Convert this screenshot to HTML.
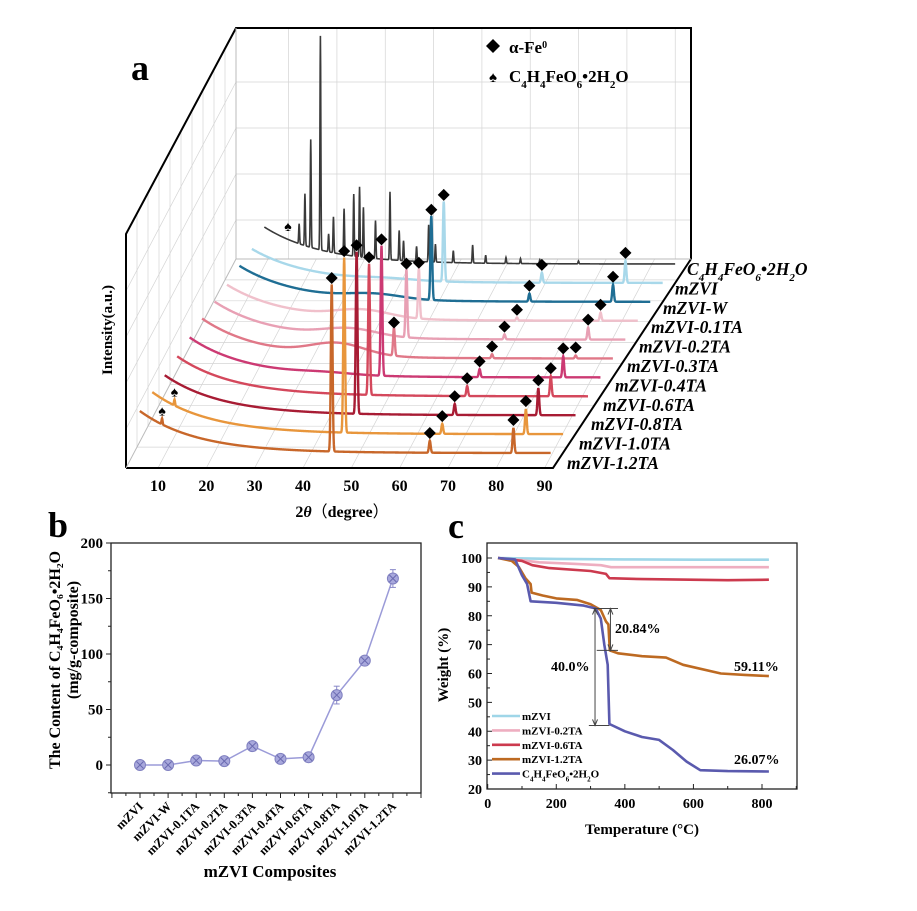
<!DOCTYPE html>
<html><head><meta charset="utf-8"><style>
html,body{margin:0;padding:0;background:#fff}
svg{display:block;font-family:"Liberation Serif",serif;font-weight:bold}
</style></head><body>
<svg id="fig" width="917" height="911" viewBox="0 0 917 911" xmlns="http://www.w3.org/2000/svg">
<g id="pa"></g>
<g id="pb"></g>
<g id="pc"></g>
</svg>
<script>
// ===== Panel a data =====
const xrdNames = ["mZVI-1.2TA","mZVI-1.0TA","mZVI-0.8TA","mZVI-0.6TA","mZVI-0.4TA","mZVI-0.3TA","mZVI-0.2TA","mZVI-0.1TA","mZVI-W","mZVI"];
const xrdColors = ["#c8672a","#e8963c","#a81c34","#d4485c","#cc3a73","#e07888","#e8a0b4","#f0c0cb","#1f6e94","#a8d8ea"];
const fePeaks = [44.7, 65.0, 82.3];
const feH1 = [167,175,162,131,130,28,68,50,84,80];
const feH2 = [12,10,11,10,8,4,5,3,8,10];
const feH3 = [25,25,27,20,21,3,12,8,17,22];
const bgStart = [42,42,40,40,40,40,38,36,36,34];
const humpH = [0,0,0,0,2,12,8,8,5,2];
const tarPeakPos = [12.2,13.4,14.6,16.6,18.3,19.3,21.5,23.5,24.7,25.5,28.0,31.0,32.9,33.8,36.5,39.0,40.4,44.1,48.1,50.8,55,58,62,70];
const tarPeakH = [20,52,108,214,18,36,46,62,70,50,38,68,30,20,15,37,18,12,18,8,6,5,4,3];
const tarBg = 37;
const thetaTicks = [10,20,30,40,50,60,70,80,90];

// ===== Panel b data =====
const bCats = ["mZVI","mZVI-W","mZVI-0.1TA","mZVI-0.2TA","mZVI-0.3TA","mZVI-0.4TA","mZVI-0.6TA","mZVI-0.8TA","mZVI-1.0TA","mZVI-1.2TA"];
const bVals = [0,0,4,3.5,17,5.5,7,63,94,168];
const bErr = [1,1,1.5,1.5,2,1.5,1.5,8,3,8];
const bTicks = [0,50,100,150,200];

// ===== Panel c data =====
const cNames = ["mZVI","mZVI-0.2TA","mZVI-0.6TA","mZVI-1.2TA","C4H4FeO6•2H2O"];
const cColors = ["#9fd6e8","#eeaec0","#cc3a4e","#bd6a22","#5a5aae"];
const tMZVI = [30,200,400,600,820];
const wMZVI = [100,99.7,99.5,99.4,99.4];
const t02 = [30,100,150,250,330,360,500,820];
const w02 = [100,99.2,98.5,98,97.5,96.8,96.8,96.8];
const t06 = [30,100,130,180,300,345,355,450,700,820];
const w06 = [100,99,97.5,96.5,95.5,94.5,93,92.7,92.3,92.5];
const t12 = [30,70,90,110,125,128,160,200,260,300,330,345,352,356,380,450,520,570,680,750,820];
const w12 = [100,99,97,93,91,88,87,86,85.5,84,82,78,77,68,67,66,65.5,63,60,59.5,59.1];
const tTar = [30,80,100,115,125,200,280,315,330,340,350,355,400,450,500,540,580,620,700,820];
const wTar = [100,99.5,94,91,85,84.5,83.5,82.5,79,70,63,42.5,40,38,37,33.5,29.5,26.5,26.2,26.07];
const cXTicks = [0,200,400,600,800];
const cYTicks = [20,30,40,50,60,70,80,90,100];

const NS="http://www.w3.org/2000/svg";
function mk(tag,attrs,parent,text){const e=document.createElementNS(NS,tag);for(const k in attrs)e.setAttribute(k,attrs[k]);if(text!==undefined)e.textContent=text;parent.appendChild(e);return e;}
const FORM='C<tspan baseline-shift="sub" font-size="SS">4</tspan>H<tspan baseline-shift="sub" font-size="SS">4</tspan>FeO<tspan baseline-shift="sub" font-size="SS">6</tspan>•2H<tspan baseline-shift="sub" font-size="SS">2</tspan>O';

// ===== Panel a =====
(function(){
const g=document.getElementById('pa');
const SX=4.833, DX=12.45, DY=-18.9;
const FL=126, FR=553, FB=468, FT=234, BL=236, BR=691, BT=28, BB=259;
const X=(t,k)=>164+(t-10)*SX+DX*k;
const B=k=>453+DY*k;
const grid=mk('g',{stroke:'#d4d4d4','stroke-width':0.7,fill:'none'},g);


const hy=[82,128,174,220];
hy.forEach(y=>mk('line',{x1:BL,y1:y,x2:BR,y2:y},grid));
thetaTicks.forEach(t=>{const x=288.6+(t-10)*SX;mk('line',{x1:x,y1:BT,x2:x,y2:BB},grid);});
const ddx=BL-FL, ddy=FB-BB;
for(let i=1;i<10;i++){const f=i/10;mk('line',{x1:FL+ddx*f,y1:FB-ddy*f,x2:FL+ddx*f,y2:FT-(FT-BT)*f},grid);}
hy.forEach(y=>{const dy=BB-y;mk('line',{x1:FL,y1:FB-dy,x2:BL,y2:BB-dy},grid);});
thetaTicks.forEach(t=>{const x=158+(t-10)*SX;mk('line',{x1:x,y1:FB,x2:x+ddx,y2:BB},grid);});
for(let i=1;i<10;i++){const f=i/10;mk('line',{x1:FL+ddx*f,y1:FB-ddy*f,x2:FR+(BR-FR)*f,y2:FB-ddy*f},grid);}
const fr=mk('g',{stroke:'#000','stroke-width':2,fill:'none'},g);


mk('polyline',{points:`${FL},${FB} ${FL},${FT} ${BL},${BT} ${BR},${BT} ${BR},${BB}`},fr);
mk('polyline',{points:`${FL},${FB} ${FR},${FB} ${BR},${BB}`},fr);
mk('line',{x1:BL,y1:BT,x2:BL,y2:BB,stroke:'#bbb','stroke-width':1},g);
mk('line',{x1:BL,y1:BB,x2:BR,y2:BB,stroke:'#bbb','stroke-width':1},g);
mk('line',{x1:FL,y1:FB,x2:BL,y2:BB,stroke:'#bbb','stroke-width':1},g);
function path(k,fn){let d='';for(let t=5;t<=90.001;t+=0.05){const y=B(k)-fn(t);d+=(d?'L':'M')+X(t,k).toFixed(2)+' '+y.toFixed(2);}return d;}
const tar=mk('path',{d:path(10,t=>{let v=tarBg*Math.exp(-(t-5)/12);tarPeakPos.forEach((p,i)=>{v+=tarPeakH[i]*Math.exp(-Math.pow((t-p)/0.13,2));});return v;}),stroke:'#3a3a3a','stroke-width':1.6,fill:'none'},g);


for(let k=9;k>=0;k--){
  const fn=t=>{let v=bgStart[k]*Math.exp(-(t-5)/12)+humpH[k]*Math.exp(-Math.pow((t-33)/8,2));
    const hs=[feH1[k],feH2[k],feH3[k]];fePeaks.forEach((p,i)=>{v+=hs[i]*Math.exp(-Math.pow((t-p)/0.25,2));});
    if(k<=1)v+=6*Math.exp(-Math.pow((t-9.6)/0.15,2));return v;};
  const p=mk('path',{d:path(k,fn),stroke:xrdColors[k],'stroke-width':2.4,fill:'none'},g);
  
  
  const hs=[feH1[k],feH2[k],feH3[k]];
  fePeaks.forEach((pp,i)=>{const x=X(pp,k),y=B(k)-hs[i]-8;
    const m=mk('path',{d:`M${x} ${y-6}L${x+6} ${y}L${x} ${y+6}L${x-6} ${y}Z`,fill:'#000'},g);
    
    });
  if(k<=1){const s=mk('text',{x:X(9.6,k),y:B(k)-bgStart[k]*Math.exp(-4.6/12)-9,'font-size':14,'text-anchor':'middle'},g,'♠');
    
    }
}
const s2=mk('text',{x:X(10.5,10)-3,y:231,'font-size':14,'text-anchor':'middle'},g,'♠');


xrdNames.forEach((l,k)=>{const t=mk('text',{x:567+12*k,y:469-19.4*k,'font-size':17.5,'font-style':'italic'},g,l);
  
  });
const tl=mk('text',{x:567+120,y:469-194,'font-size':17.5,'font-style':'italic'},g);


tl.innerHTML=FORM.replace(/SS/g,'11');
thetaTicks.forEach(t=>{const e=mk('text',{x:158+(t-10)*SX,y:491,'font-size':16,'text-anchor':'middle'},g,t);
  
  });
const xt=mk('text',{x:342,y:517,'font-size':16,'text-anchor':'middle'},g);


xt.innerHTML='2<tspan font-style="italic">θ</tspan><tspan font-family="Noto Sans CJK SC" font-weight="normal">（</tspan>degree<tspan font-family="Noto Sans CJK SC" font-weight="normal">）</tspan>';
const yt=mk('text',{x:0,y:0,'font-size':15,'text-anchor':'middle',transform:'translate(112,330) rotate(-90)'},g,'Intensity(a.u.)');


const pl=mk('text',{x:131,y:80,'font-size':36},g,'a');


const lg=mk('g',{},g);


mk('path',{d:'M493 39L500 46L493 53L486 46Z',fill:'#000'},lg);
const l1=mk('text',{x:509,y:53,'font-size':17},lg);l1.innerHTML='α-Fe<tspan baseline-shift="super" font-size="10">0</tspan>';
mk('text',{x:493,y:82,'font-size':15,'text-anchor':'middle'},lg,'♠');
const l2=mk('text',{x:509,y:82,'font-size':17},lg);l2.innerHTML=FORM.replace(/SS/g,'11');
})();

// ===== Panel b =====
(function(){
const g=document.getElementById('pb');
const L=111,R=421,T=543,Bt=793;
const xs=i=>140+28.1*i;
const ys=v=>765-v*(222/200);
mk('rect',{x:L,y:T,width:R-L,height:Bt-T,fill:'none',stroke:'#222','stroke-width':1.3},g);
bTicks.forEach(v=>{mk('line',{x1:L-5,y1:ys(v),x2:L,y2:ys(v),stroke:'#222'},g);
  const t=mk('text',{x:L-8,y:ys(v)+5,'font-size':15,'text-anchor':'end'},g,v);
  
  
  if(v<200)mk('line',{x1:L-3,y1:ys(v+25),x2:L,y2:ys(v+25),stroke:'#222'},g);});
mk('line',{x1:L-3,y1:ys(-25),x2:L,y2:ys(-25),stroke:'#222'},g);
for(let i=-1;i<=10;i++){mk('line',{x1:xs(i),y1:Bt,x2:xs(i),y2:Bt+5,stroke:'#222'},g);if(i<10)mk('line',{x1:xs(i)+14,y1:Bt,x2:xs(i)+14,y2:Bt+3,stroke:'#222'},g);}
let d='';bVals.forEach((v,i)=>{d+=(i?'L':'M')+xs(i)+' '+ys(v);});
const ln=mk('path',{d:d,stroke:'#9b9bd8','stroke-width':1.5,fill:'none'},g);


bVals.forEach((v,i)=>{const x=xs(i),y=ys(v),e=bErr[i]*(222/200);
  mk('line',{x1:x,y1:y-e,x2:x,y2:y+e,stroke:'#8888c8'},g);
  mk('line',{x1:x-3,y1:y-e,x2:x+3,y2:y-e,stroke:'#8888c8'},g);
  mk('line',{x1:x-3,y1:y+e,x2:x+3,y2:y+e,stroke:'#8888c8'},g);
  const c=mk('circle',{cx:x,cy:y,r:5.5,fill:'#a8a8dc',stroke:'#8080c0','stroke-width':1},g);
  
  
  mk('path',{d:`M${x-3.5} ${y-3.5}L${x+3.5} ${y+3.5}M${x+3.5} ${y-3.5}L${x-3.5} ${y+3.5}`,stroke:'#6a6ab0','stroke-width':1},g);
  const t=mk('text',{x:0,y:0,'font-size':12.5,'text-anchor':'end',transform:`translate(${x+4},${Bt+14}) rotate(-45)`},g,bCats[i]);
  
  });
const yt=mk('text',{x:0,y:0,'font-size':16,'text-anchor':'middle',transform:'translate(60,660) rotate(-90)'},g,'The Content of C₄H₄FeO₆•2H₂O');


const yt2=mk('text',{x:0,y:0,'font-size':16,'text-anchor':'middle',transform:'translate(78,640) rotate(-90)'},g,'(mg/g-composite)');


const xt=mk('text',{x:270,y:877,'font-size':17,'text-anchor':'middle'},g,'mZVI Composites');


const pl=mk('text',{x:48,y:537,'font-size':36},g,'b');


})();

// ===== Panel c =====
(function(){
const g=document.getElementById('pc');
const L=487,R=797,T=543,Bt=789;
const xs=t=>487.7+t*(274.3/800);
const ys=w=>558+(100-w)*(231/80);
mk('rect',{x:L,y:T,width:R-L,height:Bt-T,fill:'none',stroke:'#222','stroke-width':1.3},g);
cYTicks.forEach(v=>{mk('line',{x1:L,y1:ys(v),x2:L+5,y2:ys(v),stroke:'#222'},g);
  if(v<100)mk('line',{x1:L,y1:ys(v+5),x2:L+3,y2:ys(v+5),stroke:'#222'},g);
  const t=mk('text',{x:L-5,y:ys(v)+5,'font-size':14,'text-anchor':'end'},g,v);
  
  });
cXTicks.forEach(v=>{mk('line',{x1:xs(v),y1:Bt,x2:xs(v),y2:Bt-5,stroke:'#222'},g);
  mk('line',{x1:xs(v+100),y1:Bt,x2:xs(v+100),y2:Bt-3,stroke:'#222'},g);
  const t=mk('text',{x:xs(v),y:Bt+19,'font-size':14,'text-anchor':'middle'},g,v);
  
  });
const series=[[tMZVI,wMZVI],[t02,w02],[t06,w06],[t12,w12],[tTar,wTar]];
series.forEach((s,i)=>{let d='';s[0].forEach((t,j)=>{d+=(j?'L':'M')+xs(t).toFixed(1)+' '+ys(s[1][j]).toFixed(1);});
  const p=mk('path',{d:d,stroke:cColors[i],'stroke-width':2.6,fill:'none','stroke-linejoin':'round'},g);
  
  });
const an=mk('g',{stroke:'#444','stroke-width':1,fill:'none'},g);


mk('line',{x1:xs(308),y1:ys(82.5),x2:xs(380),y2:ys(82.5)},an);
mk('line',{x1:xs(318),y1:ys(68),x2:xs(380),y2:ys(68)},an);
mk('line',{x1:xs(295),y1:ys(42),x2:xs(355),y2:ys(42)},an);
const ax1=xs(358),ax2=xs(313);
mk('line',{x1:ax1,y1:ys(82.5),x2:ax1,y2:ys(68)},an);
mk('line',{x1:ax2,y1:ys(82.5),x2:ax2,y2:ys(42)},an);
[[ax1,ys(82.5),1],[ax1,ys(68),-1],[ax2,ys(82.5),1],[ax2,ys(42),-1]].forEach(a=>mk('path',{d:`M${a[0]-2.5} ${a[1]+6*a[2]}L${a[0]} ${a[1]}L${a[0]+2.5} ${a[1]+6*a[2]}`},an));
[['20.84%',615,633],['40.0%',551,671],['59.11%',734,671],['26.07%',734,764]].forEach(a=>{const t=mk('text',{x:a[1],y:a[2],'font-size':14},g,a[0]);
  
  });
const lg=mk('g',{},g);


cNames.forEach((n,i)=>{const y=716+14.4*i;mk('line',{x1:492,y1:y,x2:520,y2:y,stroke:cColors[i],'stroke-width':2.6},lg);
  const t=mk('text',{x:522,y:y+4,'font-size':11},lg);
  if(i<4)t.textContent=n;else t.innerHTML=FORM.replace(/SS/g,'7');});
const xt=mk('text',{x:642,y:834,'font-size':15,'text-anchor':'middle'},g,'Temperature (°C)');


const yt=mk('text',{x:0,y:0,'font-size':15,'text-anchor':'middle',transform:'translate(448,665) rotate(-90)'},g,'Weight  (%)');


const pl=mk('text',{x:448,y:538,'font-size':36},g,'c');


})();
</script>
</body></html>
